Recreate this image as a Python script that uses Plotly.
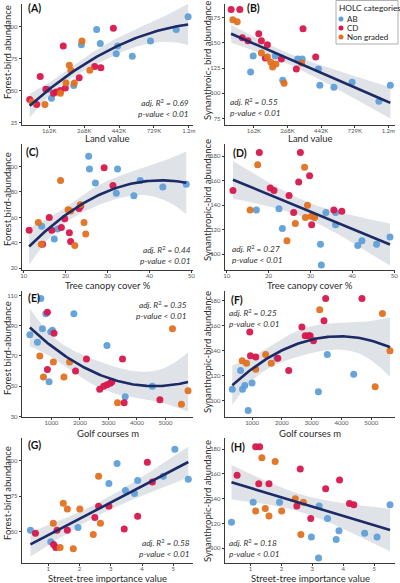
import numpy as np
import plotly.graph_objects as go
from plotly.subplots import make_subplots

# (x, y) per HOLC category; land value in $K, golf courses in m
A_ab = [(1190, 108), (1004, 98), (694, 89), (535, 77), (425, 79), (434, 85), (338, 87), (321, 98),
        (258, 86), (231, 54), (168, 44), (161, 51)]
A_cd = [(408, 99), (199, 85), (143, 61), (155, 51), (180, 49), (191, 50), (205, 52), (250, 60),
        (312, 69), (341, 68), (123, 43), (136, 39), (173, 48)]
A_ng = [(260, 89), (217, 70), (222, 66), (291, 66), (233, 56), (207, 56), (191, 48), (153, 39), (127, 41)]

B_ab = [(161, 137), (155, 121), (224, 137), (250, 113), (312, 134), (334, 134), (425, 124), (434, 108),
        (535, 106), (701, 111), (1045, 92), (1239, 108)]
B_cd = [(116, 183), (132, 183), (137, 155), (149, 152), (175, 159), (182, 152), (199, 148), (193, 135),
        (245, 134), (306, 124), (338, 164), (408, 136)]
B_ng = [(119, 173), (127, 171), (182, 140), (199, 136), (209, 131), (215, 126), (226, 129), (255, 110), (331, 130)]

C_ab = [(25.5, 108), (25.7, 98), (27.1, 87), (32.4, 98), (32.1, 79), (36.3, 77), (37.8, 89), (43.2, 84),
        (48.8, 86), (17.3, 43), (18.1, 51), (14.3, 53)]
C_cd = [(29.2, 99), (31.3, 85), (11.3, 50), (16.1, 60), (16.7, 50), (19.0, 52), (19.8, 59), (20.9, 48),
        (21.2, 41), (23.2, 67), (23.6, 69), (14.5, 39)]
C_ng = [(18.8, 89), (20.6, 66), (21.2, 65), (23.5, 70), (13.5, 56), (24.4, 56), (24.8, 47), (14.2, 39), (22.2, 38)]

D_ab = [(17.1, 136), (22.5, 137), (23.3, 121), (33.7, 134), (36.0, 134), (36.0, 124), (32.4, 108), (32.6, 91),
        (41.3, 107), (42.3, 111), (45.8, 108), (49.0, 114)]
D_cd = [(17.8, 183), (27.6, 183), (11.5, 152), (20.4, 154), (21.3, 152), (27.2, 159), (29.8, 164), (24.9, 148),
        (26.0, 134), (30.3, 124), (35.6, 136), (37.5, 135)]
D_ng = [(17.4, 173), (28.6, 171), (15.6, 136), (29.3, 140), (28.8, 130), (26.4, 125), (30.2, 131), (31.0, 130),
        (24.4, 111)]

E_ab = [(629, 108), (803, 98), (1789, 98), (246, 84), (687, 88), (977, 86), (1035, 87), (513, 79),
        (919, 53), (2949, 77), (3587, 43), (4538, 50)]
E_cd = [(861, 99), (1093, 85), (861, 61), (1847, 60), (2230, 68), (2694, 48), (2834, 50), (2950, 51),
        (3065, 52), (3123, 53), (3494, 68), (3552, 39), (4805, 41)]
E_ng = [(594, 70), (722, 56), (1070, 66), (1441, 56), (1638, 66), (3320, 39), (5246, 88), (5559, 38), (5791, 47)]

F_ab = [(1831, 134), (3526, 137), (612, 124), (335, 109), (679, 109), (756, 112), (1000, 114), (867, 92),
        (3227, 107), (4413, 121)]
F_cd = [(3471, 182), (4690, 182), (3415, 164), (922, 155), (2673, 159), (2784, 152), (2895, 152), (2950, 152),
        (3061, 148), (945, 136), (1122, 135), (1864, 134), (2230, 124)]
F_ng = [(3271, 173), (5377, 170), (1454, 137), (668, 132), (812, 130), (1122, 125), (1643, 130), (5133, 111),
        (5631, 140)]

G_ab = [(0.43, 51), (1.08, 43), (1.95, 53), (2.94, 84), (3.20, 98), (3.47, 79), (3.76, 77), (3.86, 86),
        (4.68, 89), (5.05, 108), (5.48, 87)]
G_cd = [(0.59, 49), (1.17, 41), (1.24, 39), (1.28, 51), (1.61, 51), (2.49, 60), (2.61, 68), (2.94, 68),
        (3.43, 52), (3.86, 61), (4.17, 99), (4.33, 85)]
G_ng = [(1.16, 56), (1.48, 70), (1.61, 66), (2.01, 66), (2.61, 89), (2.67, 56), (2.44, 48), (1.38, 39), (1.80, 38)]

H_ab = [(0.39, 121), (1.09, 137), (1.94, 137), (3.22, 134), (3.49, 124), (2.97, 109), (3.20, 92), (3.77, 107),
        (3.86, 114), (4.69, 112), (5.09, 109), (5.51, 135)]
H_cd = [(1.17, 182), (1.30, 182), (0.57, 159), (2.61, 164), (1.27, 152), (1.60, 152), (3.43, 148), (3.88, 155),
        (4.20, 136), (4.34, 135), (2.50, 134), (2.95, 124)]
H_ng = [(1.37, 173), (1.80, 170), (2.45, 140), (2.71, 137), (1.17, 130), (1.48, 132), (1.60, 126), (2.01, 130),
        (2.63, 111)]

categories = ['AB', 'CD', 'Non graded']
adj_r2 = [0.69, 0.55, 0.44, 0.27, 0.35, 0.25, 0.58, 0.18]
land_ticks = [162.755, 268.337, 442.413, 729.416, 1202.604]
land_labels = ['162K', '268K', '442K', '729K', '1.2m']

colors = ['#5e9fd8', '#d8174c', '#e2701f']
FONT = 'Lato'
W, H = 400, 583


def px_x(p):
    return p / W


def px_y(p):
    return 1 - p / H


def fit(x, y, deg, n=100):
    X = np.vander(x, deg + 1)
    beta = np.linalg.lstsq(X, y, rcond=None)[0]
    resid = y - X @ beta
    s2 = resid @ resid / (len(x) - deg - 1)
    cov = s2 * np.linalg.inv(X.T @ X)
    xs = np.linspace(x.min(), x.max(), n)
    Xs = np.vander(xs, deg + 1)
    yhat = Xs @ beta
    se = np.sqrt(np.sum((Xs @ cov) * Xs, axis=1))
    return xs, yhat, yhat - 2.03 * se, yhat + 2.03 * se


def note(text, x, y, size, color, xanchor='center', **kw):
    return dict(text=text, x=px_x(x), y=px_y(y), xref='paper', yref='paper', xanchor=xanchor,
                yanchor='middle', showarrow=False, font=dict(size=size, color=color, family=FONT), **kw)


fig = make_subplots(rows=4, cols=2)

# label, data, poly degree, log x, x title, y title, x range, y range, x ticks, y ticks
panels = [
    ('A', (A_ab, A_cd, A_ng), 2, True, 'Land value', 'Forest-bird abundance',
     [2.042, 3.106], [23, 118], None, [25, 50, 75, 100]),
    ('B', (B_ab, B_cd, B_ng), 1, True, 'Land value', 'Synanthroic- bird abundance',
     [2.025, 3.123], [68.5, 188.5], None, [75, 100, 125, 150, 175]),
    ('C', (C_ab, C_cd, C_ng), 2, False, 'Tree canopy cover %', 'Forest bird-abundance',
     [9.6, 50.4], [18.7, 117.7], [10, 20, 30, 40, 50], [20, 40, 60, 80, 100]),
    ('D', (D_ab, D_cd, D_ng), 1, False, 'Tree canopy cover %', 'Synanthropic-bird abundance',
     [9.6, 50.2], [87, 190], [10, 20, 30, 40, 50], [100, 120, 140, 160, 180]),
    ('E', (E_ab, E_cd, E_ng), 2, False, 'Golf courses m', 'Forest bird-abundance',
     [-30, 5965], [29.6, 113], [1000, 2000, 3000, 4000, 5000], [30, 50, 70, 90, 110]),
    ('F', (F_ab, F_cd, F_ng), 2, False, 'Golf courses m', 'Synanthropic-bird abundance',
     [90, 5800], [86.7, 188], [1000, 2000, 3000, 4000, 5000], [100, 120, 140, 160, 180]),
    ('G', (G_ab, G_cd, G_ng), 1, False, 'Street-tree importance value', 'Forest-bird abundance',
     [0.16, 5.63], [28, 116], [1, 2, 3, 4, 5], [50, 75, 100]),
    ('H', (H_ab, H_cd, H_ng), 1, False, 'Street-tree importance value', 'Synanthropic-bird abundance',
     [0.18, 5.67], [88, 189], [1, 2, 3, 4, 5], [100, 120, 140, 160, 180]),
]

col_px = [(22, 193), (225, 395)]
row_px = [(4, 125), (144, 270), (291, 417), (438, 563)]
ytitle_c = [52, 60, 199, 200, 348, 352, 493, 501]
xtitle_y = [138, 138, 285, 285, 433, 433, 578, 578]
label_pos = [(26, 8), (245, 8), (24, 152), (231, 153), (26, 298), (229, 300), (26, 445), (229, 447)]
stat_pos = [(191, 108, 'right'), (228, 107, 'left'), (193, 255, 'right'), (230, 254, 'left'),
            (189, 310, 'right'), (227, 318, 'left'), (192, 548, 'right'), (227, 548, 'left')]

annotations = []
for i, (lab, groups, deg, logx, xt, yt, xr, yr, xtv, ytv) in enumerate(panels):
    row, col = i // 2 + 1, i % 2 + 1
    allx = np.array([p[0] for g in groups for p in g], dtype=float)
    ally = np.array([p[1] for g in groups for p in g], dtype=float)
    xf = np.log(allx) if logx else allx
    xs, yhat, lo, hi = fit(xf, ally, deg)
    if logx:
        xs = np.exp(xs)

    fig.add_trace(go.Scatter(x=np.concatenate([xs, xs[::-1]]), y=np.concatenate([hi, lo[::-1]]),
                             fill='toself', fillcolor='rgba(196,204,212,0.55)', line=dict(width=0),
                             mode='lines', hoverinfo='skip', showlegend=False), row=row, col=col)
    for g, name, c in zip(groups, categories, colors):
        fig.add_trace(go.Scatter(x=[p[0] for p in g], y=[p[1] for p in g], mode='markers', name=name,
                                 marker=dict(color=c, size=7, opacity=0.95), showlegend=False),
                      row=row, col=col)
    fig.add_trace(go.Scatter(x=xs, y=yhat, mode='lines', line=dict(color='#1c2a66', width=2.6),
                             showlegend=False), row=row, col=col)

    x0, x1 = col_px[col - 1]
    y0, y1 = row_px[row - 1]
    axis_style = dict(showgrid=False, zeroline=False, showline=True, linecolor='#3a3a3a', linewidth=1.4,
                      ticks='outside', ticklen=2, tickwidth=0.8, tickcolor='#3a3a3a', automargin=False,
                      tickfont=dict(size=6, color='#555555', family=FONT))
    if logx:
        fig.update_xaxes(type='log', range=xr, tickvals=land_ticks, ticktext=land_labels, ticklabelstandoff=-2,
                         domain=[px_x(x0), px_x(x1)], row=row, col=col, **axis_style)
    else:
        fig.update_xaxes(range=xr, tickvals=xtv, domain=[px_x(x0), px_x(x1)], ticklabelstandoff=-2,
                         row=row, col=col, **axis_style)
    fig.update_yaxes(range=yr, tickvals=ytv, domain=[px_y(y1), px_y(y0)], row=row, col=col, **axis_style)

    annotations.append(note(xt, (x0 + x1) / 2, xtitle_y[i], 9.5, '#2b2b2b'))
    annotations.append(note(yt, 7 if col == 1 else 207, ytitle_c[i], 9.5, '#2b2b2b', textangle=-90))
    lx, ly = label_pos[i]
    annotations.append(note('<b>(%s)</b>' % lab, lx, ly, 10.5, '#111111', xanchor='left'))
    sx, sy, al = stat_pos[i]
    annotations.append(note('<i>adj. R</i><sup>2</sup><i> = %.2f</i><br><i>p-value &lt; 0.01</i>' % adj_r2[i],
                            sx, sy, 8.3, '#333333', xanchor=al, align=al))

# legend box (drawn by hand to keep it compact)
shapes = [dict(type='rect', xref='paper', yref='paper', x0=px_x(336), x1=px_x(398), y0=px_y(44), y1=px_y(0.5),
               line=dict(color='#9a9a9a', width=0.8), fillcolor='white', layer='above')]
annotations.append(note('HOLC categories', 338, 8, 8.3, '#222222', xanchor='left', borderpad=0))
for k, (name, c) in enumerate(zip(categories, colors)):
    cy = 19 + k * 9
    shapes.append(dict(type='circle', xref='paper', yref='paper', x0=px_x(338.5), x1=px_x(343.5),
                       y0=px_y(cy + 2.5), y1=px_y(cy - 2.5), fillcolor=c, line=dict(width=0), layer='above'))
    annotations.append(note(name, 346, cy, 8, '#222222', xanchor='left', borderpad=0))

fig.update_layout(width=W, height=H, margin=dict(l=0, r=0, t=0, b=0, autoexpand=False), plot_bgcolor='white',
                  paper_bgcolor='white', showlegend=False, annotations=annotations, shapes=shapes,
                  font=dict(family=FONT))

fig.write_html("out.html", config={'displayModeBar': False},
               post_script="document.body.style.margin='0';")
